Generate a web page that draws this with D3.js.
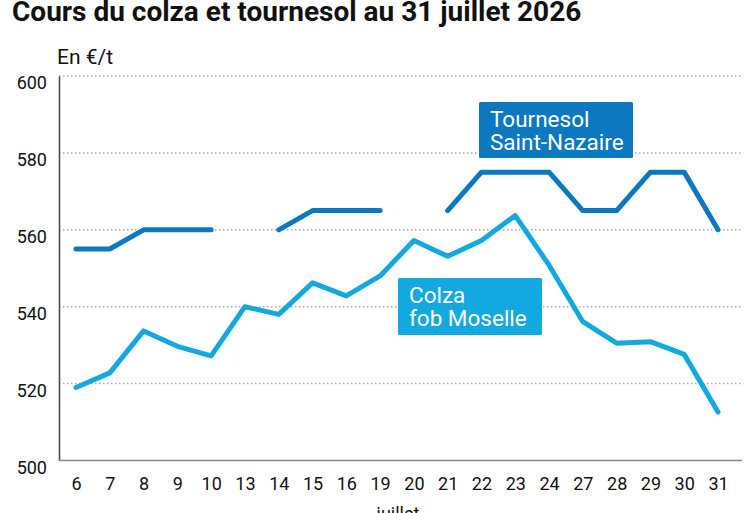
<!DOCTYPE html>
<html lang="fr">
<head>
  <meta charset="UTF-8">
  <title>Cours du colza et tournesol</title>
  <script src="https://cdn.jsdelivr.net/npm/d3@7"></script>
  <style>
    body { margin: 0; background: #fff; }
    svg { display: block; font-family: Roboto, sans-serif; }
  </style>
</head>
<body>
<svg></svg>
<script>
  const width = 747, height = 513
  const margin = {top: 76, right: 5, bottom: 52, left: 59}

  // jours de juillet
  const days = ['6', '7', '8', '9', '10', '13', '14', '15', '16', '19',
    '20', '21', '22', '23', '24', '27', '28', '29', '30', '31']
  // null = pas de cotation
  const tournesol = [555, 555, 560, 560, 560, null, 560, 565, 565, 565,
    null, 565, 575, 575, 575, 565, 565, 575, 575, 560]
  const colza = [519, 522.8, 533.7, 529.7, 527.2, 540, 538, 546.2, 542.8, 548,
    557.2, 553.1, 557.2, 563.7, 550.8, 536.1, 530.5, 530.9, 527.6, 512.6]
  const yTicks = [500, 520, 540, 560, 580, 600]

  const svg = d3.select('svg')
      .attr('width', width)
      .attr('height', height)
      .attr('viewBox', [0, 0, width, height])

  const x = d3.scalePoint()
      .domain(days)
      .range([76, 718])

  const y = d3.scaleLinear()
      .domain([500, 600])
      .range([height - margin.bottom - 0.5, margin.top])

  svg.append('text')
      .attr('x', 12)
      .attr('y', 21)
      .attr('font-size', 28)
      .attr('font-weight', 'bold')
      .attr('fill', '#111')
      .text('Cours du colza et tournesol au 31 juillet 2026')

  svg.append('text')
      .attr('x', 57)
      .attr('y', 64)
      .attr('font-size', 21)
      .attr('fill', '#111')
      .text('En €/t')

  // grille pointillée
  svg.append('g')
      .selectAll('line')
      .data(yTicks.slice(1))
      .join('line')
      .attr('x1', margin.left)
      .attr('x2', 742)
      .attr('y1', d => y(d))
      .attr('y2', d => y(d))
      .attr('stroke', '#aaa')
      .attr('stroke-width', 1.5)
      .attr('stroke-dasharray', '1.5,2.5')

  // axe Y
  svg.append('g')
      .attr('transform', `translate(${margin.left},0)`)
      .call(d3.axisLeft(y).tickValues(yTicks).tickSize(0).tickPadding(12))
      .call(g => g.select('.domain').attr('stroke', '#444').attr('stroke-width', 1.5))
      .call(g => g.selectAll('.tick text')
          .attr('font-size', 18)
          .attr('font-family', 'Roboto, sans-serif')
          .attr('fill', '#111')
          .attr('dy', '0.7em'))

  // axe X
  svg.append('g')
      .attr('transform', `translate(0,${y(500)})`)
      .call(d3.axisBottom(x).tickSize(0).tickPadding(17))
      .call(g => g.select('.domain')
          .attr('d', `M${margin.left},0H742`)
          .attr('stroke', '#888').attr('stroke-width', 1.5))
      .call(g => g.selectAll('.tick text')
          .attr('font-size', 18)
          .attr('font-family', 'Roboto, sans-serif')
          .attr('fill', '#111'))

  svg.append('text')
      .attr('x', 398)
      .attr('y', 520)
      .attr('text-anchor', 'middle')
      .attr('font-size', 18)
      .attr('fill', '#111')
      .text('juillet')

  const line = d3.line()
      .defined(d => d[1] != null)
      .x(d => x(d[0]))
      .y(d => y(d[1]))

  svg.append('path')
      .attr('d', line(days.map((d, i) => [d, tournesol[i]])))
      .attr('fill', 'none')
      .attr('stroke', '#0b78bf')
      .attr('stroke-width', 5)
      .attr('stroke-linecap', 'round')
      .attr('stroke-linejoin', 'round')

  svg.append('path')
      .attr('d', line(days.map((d, i) => [d, colza[i]])))
      .attr('fill', 'none')
      .attr('stroke', '#14a8e0')
      .attr('stroke-width', 5)
      .attr('stroke-linecap', 'round')
      .attr('stroke-linejoin', 'round')

  // étiquettes des séries
  const labels = [
    {lines: ['Tournesol', 'Saint-Nazaire'], x0: 479, x1: 633, y0: 102, y1: 158, color: '#0b78bf'},
    {lines: ['Colza', 'fob Moselle'], x0: 398, x1: 542, y0: 278, y1: 335, color: '#14a8e0'}
  ]
  const lab = svg.append('g')
      .selectAll('g')
      .data(labels)
      .join('g')
  lab.append('rect')
      .attr('x', d => d.x0)
      .attr('y', d => d.y0)
      .attr('width', d => d.x1 - d.x0)
      .attr('height', d => d.y1 - d.y0)
      .attr('rx', 1.5)
      .attr('fill', d => d.color)
  lab.append('text')
      .attr('font-size', 22.5)
      .attr('fill', '#fff')
      .selectAll('tspan')
      .data(d => d.lines.map((t, i) => ({t, i, d})))
      .join('tspan')
      .attr('x', o => o.d.x0 + 11)
      .attr('y', o => o.d.y0 + 25 + o.i * 23)
      .text(o => o.t)
</script>
</body>
</html>
